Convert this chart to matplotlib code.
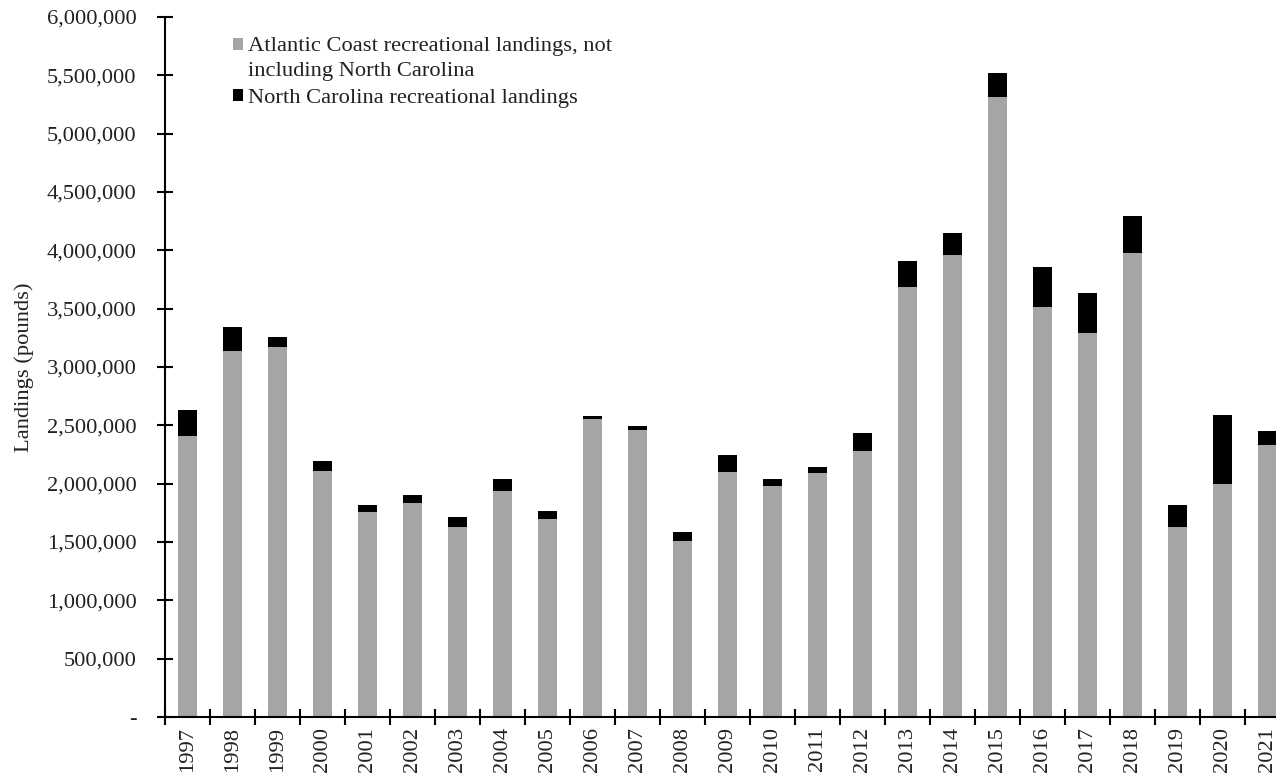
import matplotlib.pyplot as plt
import numpy as np
from matplotlib.ticker import FuncFormatter

plt.rcParams['font.family'] = ['Liberation Serif', 'DejaVu Serif']

years = [str(y) for y in range(1997, 2022)]
# totals and Atlantic Coast (excluding NC) part
total = [2630000, 3340000, 3254000, 2197000, 1814000, 1900000, 1714000, 2040000,
         1763000, 2580000, 2494000, 1583000, 2248000, 2040000, 2145000, 2432000,
         3911000, 4151000, 5517000, 3854000, 3637000, 4294000, 1814000, 2591000,
         2451000]
atlantic = [2408000, 3137000, 3174000, 2108000, 1760000, 1832000, 1631000, 1940000,
            1700000, 2551000, 2460000, 1506000, 2103000, 1983000, 2089000, 2280000,
            3688000, 3962000, 5317000, 3517000, 3294000, 3974000, 1631000, 1994000,
            2331000]
north_carolina = [t - a for t, a in zip(total, atlantic)]

fs = 16.2
fig = plt.figure(figsize=(12.76, 7.79), dpi=100)
ax = fig.add_axes([165 / 1276, 1 - 717 / 779, 1125 / 1276, 700 / 779])

x = np.arange(len(years))
ax.bar(x, atlantic, width=0.42, color='#a5a5a5',
       label='Atlantic Coast recreational landings, not\nincluding North Carolina')
ax.bar(x, north_carolina, width=0.42, bottom=atlantic, color='black',
       label='North Carolina recreational landings')

ax.set_xlim(-0.5, len(years) - 0.5)
ax.set_ylim(0, 6000000)
ax.set_yticks(np.arange(0, 6000001, 500000))
ax.yaxis.set_major_formatter(FuncFormatter(lambda v, p: '-' if v == 0 else f'{int(v):,}'))
ax.set_xticks(x)
ax.set_xticklabels(years, rotation=90)
ax.set_xticks(np.arange(-0.5, len(years), 1), minor=True)

ax.tick_params(axis='x', which='major', length=0, pad=7, labelsize=fs, colors='#222222')
ax.tick_params(axis='x', which='minor', direction='inout', length=11, width=1.5)
ax.tick_params(axis='y', direction='inout', length=11, width=1.5, pad=15,
               labelsize=fs, labelcolor='#222222', color='black')

for s in ['top', 'right']:
    ax.spines[s].set_visible(False)
for s in ['left', 'bottom']:
    ax.spines[s].set_linewidth(1.5)

ax.set_ylabel('Landings (pounds)', fontsize=fs, color='#222222', labelpad=9)

leg = ax.legend(loc='upper left', bbox_to_anchor=(0.042, 1.0), frameon=False,
                fontsize=fs, handlelength=0.45, handleheight=0.45, handletextpad=0.25,
                labelspacing=0.35, labelcolor='#222222')
leg.get_texts()[0].set_linespacing(1.4)
# put the grey square beside the first line of its two-line label
leg.legend_handles[0].set_y(leg.legend_handles[0].get_y() + 10)

fig.savefig('out.png', dpi=100)
